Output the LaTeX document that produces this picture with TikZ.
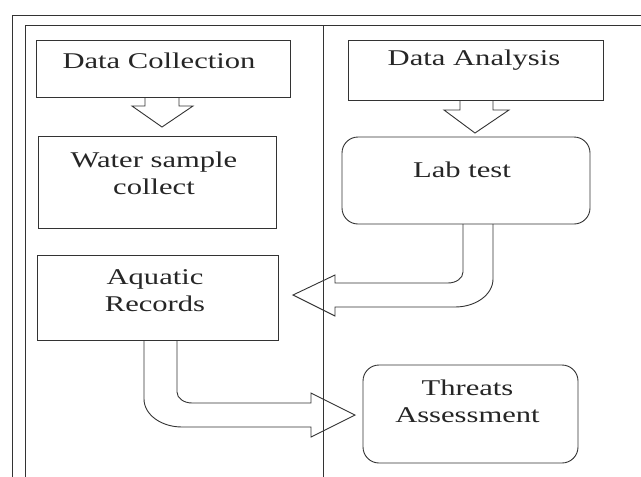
\documentclass[tikz,border=0pt]{standalone}
\usepackage{fontspec}
\setmainfont[FakeStretch=1.36]{Liberation Serif}
\begin{document}
\begin{tikzpicture}[x=1pt,y=-1pt,
  ln/.style={draw=black!80,line width=0.9pt},
  box/.style={ln,rectangle,inner sep=0pt},
  rbox/.style={ln,rectangle,rounded corners=16pt,inner sep=0pt},
  lbl/.style={anchor=base,inner sep=0pt,align=center,font=\fontsize{22.5}{26.5}\selectfont,text=black!85}]
\useasboundingbox (0,0) rectangle (641,477);
\fill[white] (0,0) rectangle (641,477);
% frames
\draw[ln] (12,477) -- (12,15) -- (641,15);
\draw[ln] (25,477) -- (25,25) -- (641,25);
\draw[ln] (323,25) -- (323,477);
% boxes
\node[box,minimum width=254pt,minimum height=57pt] (dc) at (163,68.5) {};
\node[box,minimum width=238pt,minimum height=92pt] (ws) at (157,182.5) {};
\node[box,minimum width=241pt,minimum height=85pt] (ar) at (157.5,297.5) {};
\node[box,minimum width=255pt,minimum height=60pt] (da) at (475.5,70) {};
\node[rbox,minimum width=248pt,minimum height=87pt] (lt) at (466,180.5) {};
\node[rbox,minimum width=215pt,minimum height=98pt] (ta) at (470.5,414) {};
% labels
\node[lbl] (dcT) at (159,68) {Data Collection};
\node[lbl] (daT) at (474,65) {Data Analysis};
\node[lbl] (wsT) at (154,194) {Water sample\\collect};
\node[lbl] (ltT) at (462,177) {Lab test};
\node[lbl] (arT) at (155,311) {Aquatic\\Records};
\node[lbl] (taT) at (467.5,422) {Threats\\Assessment};
% hollow arrows
\draw[ln,line join=miter] (145,97) -- (145,106) -- (132,106) -- (162,127) -- (193,106) -- (179,106) -- (179,97);
\draw[ln,line join=miter] (460,100) -- (460,110) -- (444,110) -- (475,133) -- (509,110) -- (493,110) -- (493,100);
\draw[ln,line join=miter] (463,224) -- (463,272) .. controls (463,278.1) and (456.3,283) .. (448,283)
  -- (335,283) -- (335,275) -- (293,295) -- (335,316) -- (335,307) -- (455,307)
  .. controls (476,307) and (493,294.5) .. (493,279) -- (493,224);
\draw[ln,line join=miter] (177,340) -- (177,392) .. controls (177,398.1) and (183.7,403) .. (192,403)
  -- (311,403) -- (311,393) -- (355,415) -- (311,437) -- (311,427) -- (182,427)
  .. controls (161,427) and (144,414.5) .. (144,399) -- (144,340);
\end{tikzpicture}
\end{document}
